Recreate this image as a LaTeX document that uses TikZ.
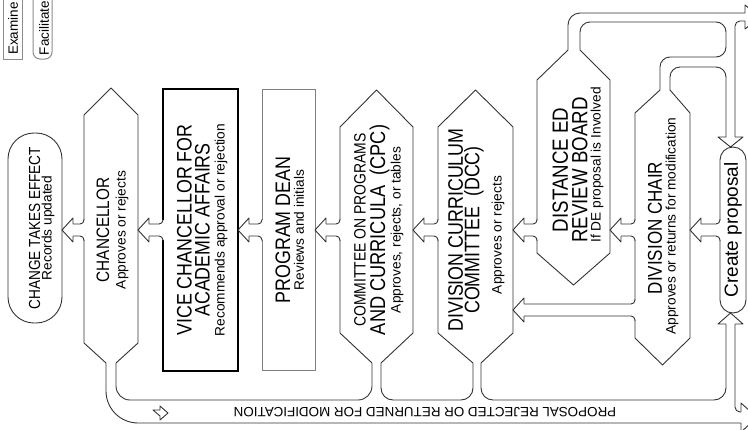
\documentclass[tikz,border=0pt]{standalone}
\usepackage{fontspec}
\setmainfont{Liberation Sans}
\newfontfamily\headfont{Liberation Sans}[FakeStretch=0.85]
\usetikzlibrary{calc}

% block arrow from the west side of #1 to the east side of #2, at height #3
\newcommand\flowarrow[3]{%
  \coordinate (fa-s) at (#1.west |- 0,#3);
  \coordinate (fa-t) at (#2.east |- 0,#3);
  \fill[white] ($(fa-t)+(11,-10)$) rectangle ($(fa-s)+(1,10)$);
  \draw[flow, rounded corners=4pt] ($(fa-s)+(0,-11)$) -- ($(fa-s)+(0,-6)$) -- ($(fa-t)+(11,-6)$);
  \draw[flow] ($(fa-t)+(11,-6)$) -- ($(fa-t)+(11,-12)$) -- (fa-t) -- ($(fa-t)+(11,12)$) -- ($(fa-t)+(11,6)$);
  \draw[flow, rounded corners=4pt] ($(fa-t)+(11,6)$) -- ($(fa-s)+(0,6)$) -- ($(fa-s)+(0,11)$);
}

\begin{document}
\begin{tikzpicture}[x=1pt, y=-1pt,
    flow/.style={draw=black!80, line width=0.9pt, line join=round},
    body/.style={inner sep=0pt, outer sep=0pt},
    shapebox/.style={body, draw=black!80, line width=0.9pt},
    legendbox/.style={body, draw=black!45, line width=1pt, minimum width=19pt, minimum height=70pt},
    hd/.style={rotate=90, inner sep=0pt, align=center},
    subtxt/.style={rotate=90, inner sep=0pt, font=\fontsize{13.7}{16}\selectfont}
  ]
  \useasboundingbox (0,0) rectangle (748,429);

  % legend
  \node[legendbox] (exam) at (12.5,24) {};
  \node[legendbox, rounded corners=7pt] (facil) at (42.5,24) {};
  \node[hd, font=\fontsize{13.5}{14}\selectfont] (exam-t) at (13,28.5) {Examine};
  \node[hd, font=\fontsize{13.5}{14}\selectfont] (facil-t) at (44,28) {Facilitate};

  % boxes
  \node[shapebox, rounded corners=26pt, minimum width=54pt, minimum height=190pt] (chg) at (35,228) {};
  \node[body, minimum width=54pt, minimum height=228pt] (chanc) at (111,229) {};
  \node[shapebox, draw=black, line width=1.2pt, minimum width=75pt, minimum height=282pt] (vc) at (200.5,230) {};
  \node[shapebox, draw=black!50, minimum width=53pt, minimum height=281pt] (pd) at (288.5,229.5) {};
  \node[body, minimum width=73pt, minimum height=206pt] (cpc) at (376.5,230) {};
  \node[body, minimum width=75pt, minimum height=206pt] (dcc) at (475.5,230) {};
  \node[body, minimum width=73pt, minimum height=173pt] (de) at (573.5,166.5) {};
  \node[body, minimum width=55pt, minimum height=225pt] (dch) at (662.5,225.5) {};
  \node[shapebox, rounded corners=13pt, minimum width=26pt, minimum height=166pt] (create) at (733,230) {};

  % hexagons
  \draw[flow] (106,363) -- (84,343) -- (84,115) -- (111,88) -- (138,115) -- (138,343) -- (116,363);
  \draw[flow] (372,363) -- (340,333) -- (340,127) -- (376.5,90) -- (413,127) -- (413,333) -- (381,363);
  \draw[flow] (473,363) -- (438,333) -- (438,127) -- (475.5,90) -- (513,127) -- (513,333) -- (481,363);
  \draw[flow] (568,50) -- (537,80) -- (537,253) -- (573.5,285) -- (610,253) -- (610,80) -- (580,50);
  \draw[flow] (660,90) -- (635,113) -- (635,338) -- (662.5,365) -- (690,338) -- (690,113) -- (670,90);

  % return path at the bottom
  \draw[flow, rounded corners=32pt] (106,363) -- (106,423) -- (741,423);
  \draw[flow, rounded corners=14pt] (116,363) -- (116,400) -- (372,400) -- (372,363);
  \draw[flow, rounded corners=12pt] (381,363) -- (381,400) -- (473,400) -- (473,363);
  \draw[flow, rounded corners=12pt] (481,363) -- (481,400) -- (726,400) -- (726,324);
  \draw[flow] (726,324) -- (718,324) -- (730.5,313) -- (743,324) -- (735,324);
  \draw[flow, rounded corners=5pt] (735,324) -- (735,412) -- (741,412);
  \draw[flow] (741,412) -- (741,403) -- (757,417.5) -- (741,432) -- (741,423);
  \draw[flow] (153,410) -- (160,410) -- (160,406) -- (168,413) -- (160,420) -- (160,416) -- cycle;

  % return path at the top
  \draw[flow, rounded corners=12pt] (568,50) -- (568,13) -- (745,13);
  \draw[flow] (745,13) -- (745,5) -- (760,17) -- (745,29) -- (745,21);
  \draw[flow, rounded corners=5pt] (745,21) -- (735,21) -- (735,137);
  \draw[flow, rounded corners=10pt] (580,50) -- (580,22) -- (726,22) -- (726,57) -- (660,57) -- (660,90);
  \draw[flow, rounded corners=10pt] (670,90) -- (670,67) -- (726,67) -- (726,137);
  \draw[flow] (726,137) -- (718,137) -- (730.5,147) -- (743,137) -- (735,137);

  % flow between the boxes
  \flowarrow{create}{dch}{230}
  \flowarrow{dch}{de}{230}
  \flowarrow{dch}{dcc}{310}
  \flowarrow{de}{dcc}{230}
  \flowarrow{dcc}{cpc}{230}
  \flowarrow{cpc}{pd}{230}
  \flowarrow{pd}{vc}{230}
  \flowarrow{vc}{chanc}{230}
  \flowarrow{chanc}{chg}{230}

  % texts
  \node[hd, font=\headfont\fontsize{16}{16}\selectfont] (chg-t) at (34.5,228) {CHANGE TAKES EFFECT};
  \node[subtxt] (chg-s) at (48,228) {Records updated};
  \node[hd, font=\headfont\fontsize{18}{18}\selectfont] (chanc-t) at (103,230) {CHANCELLOR};
  \node[subtxt] (chanc-s) at (122,230) {Approves or rejects};
  \node[hd, font=\headfont\fontsize{21}{18}\selectfont] (vc-t) at (193.5,230) {VICE CHANCELLOR FOR\\ACADEMIC AFFAIRS};
  \node[subtxt] (vc-s) at (221,230) {Recommends approval or rejection};
  \node[hd, font=\headfont\fontsize{21}{18}\selectfont] (pd-t) at (283,230) {PROGRAM DEAN};
  \node[subtxt] (pd-s) at (299,230) {Reviews and initials};
  \node[hd, font=\headfont\fontsize{16.4}{16}\selectfont] (cpc-t1) at (360,230) {COMMITTEE ON PROGRAMS};
  \node[hd, font=\headfont\fontsize{21.4}{18}\selectfont] (cpc-t2) at (379.5,230) {AND CURRICULA\ \ (CPC)};
  \node[subtxt] (cpc-s) at (397,230) {Approves, rejects, or tables};
  \node[hd, font=\headfont\fontsize{21}{16.5}\selectfont] (dcc-t) at (466,230) {DIVISION CURRICULUM\\COMMITTEE\ \ (DCC)};
  \node[subtxt] (dcc-s) at (498,235) {Approves or rejects};
  \node[hd, font=\headfont\fontsize{22}{19.5}\selectfont] (de-t) at (570,170) {DISTANCE ED\\REVIEW BOARD};
  \node[subtxt] (de-s) at (597,165) {If DE proposal is Involved};
  \node[hd, font=\headfont\fontsize{20}{18}\selectfont] (dch-t) at (655,228) {DIVISION CHAIR};
  \node[subtxt] (dch-s) at (672,226) {Approves or returns for modification};
  \node[hd, font=\fontsize{19}{19}\selectfont] (create-t) at (733,230) {Create proposal};
  \node[rotate=180, inner sep=0pt, font=\fontsize{13.4}{14}\selectfont] (back-t) at (425,412)
    {PROPOSAL REJECTED OR RETURNED FOR MODIFICATION};
\end{tikzpicture}
\end{document}
